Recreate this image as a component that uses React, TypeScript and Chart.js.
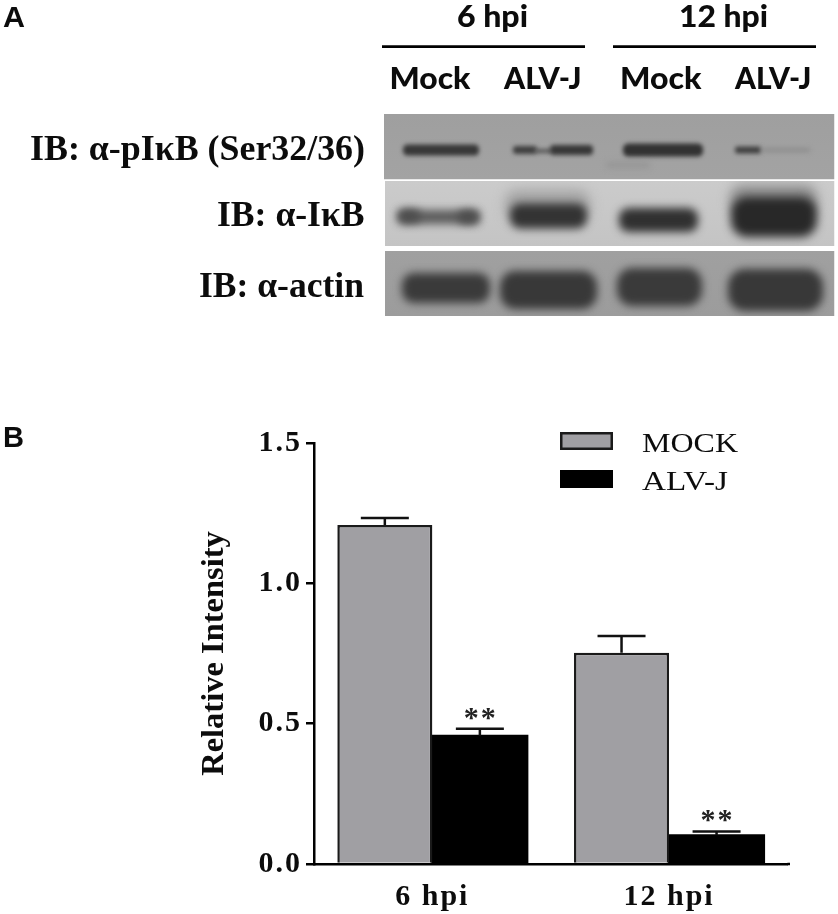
import React, { useEffect, useRef } from "react";
import { Chart, registerables } from "chart.js";

Chart.register(...registerables);

const categories = ["6 hpi", "12 hpi"];
const mockValues = [1.208, 0.753];
const alvjValues = [0.457, 0.102];
const mockErrors = [0.025, 0.059];
const alvjErrors = [0.025, 0.014];
const yTicks = [0, 0.5, 1.0, 1.5];
const seriesNames = ["MOCK", "ALV-J"];
const significance = ["**", "**"];

const INK = "#0c0c0c";
const SERIF = '"Liberation Serif", serif';
const SANS = 'Lato, "Open Sans", sans-serif';

const panels = [
  { left: 384, top: 114, bottom: 179.5, bg: "#9f9f9f", bg2: "#a3a3a3" },
  { left: 385, top: 181, bottom: 246, bg: "#cbcbcb", bg2: "#c4c4c4" },
  { left: 385, top: 251, bottom: 316, bg: "#a0a0a0", bg2: "#9c9c9c" },
];
const bands = [
  [403, 479, 150, 11, "#383838", 2.2],
  [513, 537, 150, 8, "#404040", 2.2],
  [535, 552, 151, 4, "#555555", 2],
  [550, 593, 150, 10, "#383838", 2.2],
  [623, 703, 150, 13, "#323232", 2.2],
  [735, 761, 150, 7, "#404040", 2.2],
  [761, 810, 150, 3, "#858585", 2.5],
  [606, 650, 165, 5, "#939393", 3],
  [505, 590, 205, 30, "#a4a4a4", 6],
  [730, 817, 200, 30, "#8d8d8d", 6],
  [398, 480, 217, 14, "#5b5b5b", 4],
  [398, 420, 216, 13, "#4c4c4c", 4],
  [458, 478, 217, 13, "#4c4c4c", 4],
  [510, 587, 216, 25, "#333333", 4.5],
  [619, 698, 220, 24, "#303030", 4.5],
  [731, 817, 217, 40, "#282828", 5],
  [402, 490, 288, 30, "#3a3a3a", 4.5],
  [500, 597, 290, 38, "#383838", 4.5],
  [617, 702, 287, 38, "#3a3a3a", 4.5],
  [728, 823, 290, 42, "#383838", 4.5],
];

function fitText(ctx: any, text: string, left: number, right: number, baseline: number, font: string) {
  ctx.save();
  ctx.letterSpacing = "0px";
  ctx.font = font;
  ctx.fillStyle = INK;
  ctx.textAlign = "left";
  ctx.textBaseline = "alphabetic";
  const w = ctx.measureText(text).width;
  ctx.translate(left, baseline);
  ctx.scale((right - left) / w, 1);
  ctx.fillText(text, 0, 0);
  ctx.restore();
}

const figurePlugin = {
  id: "figure",
  afterLayout(chart: any) {
    const y = chart.scales.y;
    const original = Object.getPrototypeOf(y).drawTitle;
    y.drawTitle = function () {
      chart.ctx.letterSpacing = "0px";
      original.call(this);
      chart.ctx.letterSpacing = "2px";
    };
  },
  beforeDraw(chart: any) {
    const ctx = chart.ctx;
    ctx.save();
    ctx.letterSpacing = "0px";
    ctx.fillStyle = "#ffffff";
    ctx.fillRect(0, 0, chart.width, chart.height);

    panels.forEach((p) => {
      const w = 834.5 - p.left;
      const h = p.bottom - p.top;
      ctx.save();
      ctx.beginPath();
      ctx.rect(p.left, p.top, w, h);
      ctx.clip();
      const g = ctx.createLinearGradient(0, p.top, 0, p.bottom);
      g.addColorStop(0, p.bg);
      g.addColorStop(1, p.bg2);
      ctx.fillStyle = g;
      ctx.fillRect(p.left, p.top, w, h);
      bands
        .filter((b) => (b[2] as number) > p.top && (b[2] as number) < p.bottom)
        .forEach((b) => {
          const [x1, x2, cy, bh, color, blur] = b as [number, number, number, number, string, number];
          ctx.filter = `blur(${blur}px)`;
          ctx.fillStyle = color;
          ctx.beginPath();
          ctx.roundRect(x1, cy - bh / 2, x2 - x1, bh, bh / 2.5);
          ctx.fill();
          ctx.filter = "none";
        });
      ctx.restore();
    });

    fitText(ctx, "A", 3, 25, 27, `bold 29px "Liberation Sans", sans-serif`);
    fitText(ctx, "B", 3, 24, 447, `bold 29px "Liberation Sans", sans-serif`);
    fitText(ctx, "6 hpi", 457, 528, 27, `900 31px ${SANS}`);
    fitText(ctx, "12 hpi", 679, 768, 27, `900 31px ${SANS}`);
    fitText(ctx, "Mock", 389.5, 470.5, 89, `900 31px ${SANS}`);
    fitText(ctx, "ALV-J", 504, 581.5, 89, `900 31px ${SANS}`);
    fitText(ctx, "Mock", 620, 701.5, 89, `900 31px ${SANS}`);
    fitText(ctx, "ALV-J", 735, 811.5, 89, `900 31px ${SANS}`);
    fitText(ctx, "IB: α-pIκB (Ser32/36)", 30, 365, 160, `bold 35px ${SERIF}`);
    fitText(ctx, "IB: α-IκB", 217, 364.5, 226, `bold 35px ${SERIF}`);
    fitText(ctx, "IB: α-actin", 199, 364, 296.5, `bold 35px ${SERIF}`);

    ctx.strokeStyle = "#000";
    ctx.lineWidth = 2.7;
    ctx.beginPath();
    ctx.moveTo(382, 46.7);
    ctx.lineTo(585, 46.7);
    ctx.moveTo(613, 46.7);
    ctx.lineTo(816, 46.7);
    ctx.stroke();
    ctx.restore();
    ctx.letterSpacing = "2px";
  },
  afterDatasetsDraw(chart: any) {
    const ctx = chart.ctx;
    const y = chart.scales.y;
    ctx.save();
    ctx.letterSpacing = "0px";
    [mockValues, alvjValues].forEach((vals, i) => {
      const errs = i === 0 ? mockErrors : alvjErrors;
      const meta = chart.getDatasetMeta(i);
      vals.forEach((v, j) => {
        const x = meta.data[j].x;
        const yTop = y.getPixelForValue(v + errs[j]);
        const yBase = y.getPixelForValue(v);
        ctx.strokeStyle = "#111";
        ctx.lineWidth = 2.5;
        ctx.beginPath();
        ctx.moveTo(x, yBase);
        ctx.lineTo(x, yTop);
        ctx.moveTo(x - 24, yTop);
        ctx.lineTo(x + 24, yTop);
        ctx.stroke();
        if (i === 1) {
          ctx.font = `bold 30px ${SERIF}`;
          ctx.fillStyle = "#222";
          ctx.textAlign = "center";
          ctx.textBaseline = "alphabetic";
          ctx.letterSpacing = "2px";
          ctx.fillText(significance[j], x + 1, yTop - 2);
          ctx.letterSpacing = "0px";
        }
      });
    });

    // legend, read from the datasets
    chart.data.datasets.forEach((d: any, i: number) => {
      const top = 432 + i * 38;
      ctx.fillStyle = d.backgroundColor;
      ctx.strokeStyle = d.backgroundColor === "#000000" ? "#000" : "#1a1a1a";
      ctx.lineWidth = 2.5;
      ctx.fillRect(561.25, top + 1.25, 50.5, 15.5);
      ctx.strokeRect(561.25, top + 1.25, 50.5, 15.5);
      fitText(ctx, d.label, 642, i === 0 ? 738 : 728, top + 20, `27px ${SERIF}`);
    });
    ctx.restore();
  },
  afterDraw(chart: any) {
    const ctx = chart.ctx;
    ctx.letterSpacing = "0px";
    const a = chart.chartArea;
    ctx.save();
    ctx.strokeStyle = "#000";
    ctx.lineWidth = 2.5;
    ctx.beginPath();
    ctx.moveTo(a.right, a.bottom);
    ctx.lineTo(790, a.bottom);
    ctx.stroke();
    ctx.restore();
  },
};

export default function App() {
  const ref = useRef<HTMLCanvasElement | null>(null);
  useEffect(() => {
    const chart = new Chart(ref.current as HTMLCanvasElement, {
      type: "bar",
      data: {
        labels: categories,
        datasets: [
          {
            label: seriesNames[0],
            data: mockValues,
            backgroundColor: "#a09fa3",
            borderColor: "#1a1a1a",
            borderWidth: 2.5,
            categoryPercentage: 0.803,
            barPercentage: 1,
          },
          {
            label: seriesNames[1],
            data: alvjValues,
            backgroundColor: "#000000",
            borderColor: "#000000",
            borderWidth: 0,
            inflateAmount: 1,
            categoryPercentage: 0.803,
            barPercentage: 1,
          },
        ],
      },
      options: {
        animation: false,
        responsive: false,
        layout: {
          autoPadding: false,
          padding: { left: 195, top: 443, right: 50.6, bottom: 0 },
        },
        plugins: { legend: { display: false }, tooltip: { enabled: false } },
        scales: {
          x: {
            type: "category",
            afterFit: (s: any) => {
              s.height = 50;
            },
            grid: { display: false },
            border: { display: true, color: "#000", width: 2.5 },
            ticks: {
              color: INK,
              maxRotation: 0,
              padding: 7,
              font: { family: "Liberation Serif", weight: "bold", size: 30 },
            },
          },
          y: {
            min: 0,
            max: 1.5,
            afterFit: (s: any) => {
              s.width = 119;
            },
            afterBuildTicks: (s: any) => {
              s.ticks = yTicks.map((value) => ({ value }));
            },
            grid: { drawOnChartArea: false, drawTicks: true, tickLength: 8, color: "#000", lineWidth: 2.5 },
            border: { display: true, color: "#000", width: 2.5 },
            ticks: {
              color: INK,
              padding: 4,
              callback: (v: any) => Number(v).toFixed(1),
              font: { family: "Liberation Serif", weight: "bold", size: 30 },
            },
            title: {
              display: true,
              text: "Relative Intensity",
              color: INK,
              padding: 0,
              font: { family: "Liberation Serif", weight: "bold", size: 32.5 },
            },
          },
        },
      },
      plugins: [figurePlugin],
    } as any);
    return () => chart.destroy();
  }, []);
  return (
    <div style={{ position: "fixed", left: 0, top: 0, width: 838, height: 914, background: "#fff" }}>
      <canvas ref={ref} width={838} height={914} style={{ display: "block" }} />
    </div>
  );
}
